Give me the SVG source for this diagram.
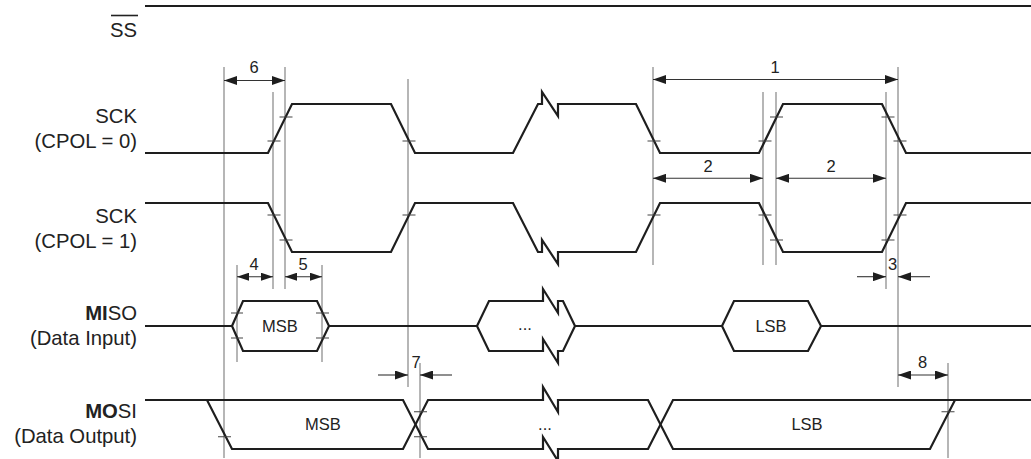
<svg xmlns="http://www.w3.org/2000/svg" width="1031" height="459" viewBox="0 0 1031 459">
<style>
.sig{fill:none;stroke:#1e1e1e;stroke-width:2.2;stroke-linejoin:miter}
.guide{stroke:#7a7a7a;stroke-width:1.1}
.tick{stroke:#444;stroke-width:1.1}
.dim{stroke:#333;stroke-width:1.1;fill:none}
.lbl{font-family:"Liberation Sans",Arial,sans-serif;font-size:20.3px;fill:#222;text-anchor:end}
.num{font-family:"Liberation Sans",Arial,sans-serif;font-size:16.5px;fill:#222;text-anchor:middle}
.dat{font-family:"Liberation Sans",Arial,sans-serif;font-size:16.5px;fill:#222;text-anchor:middle}
</style>
<defs>
<marker id="ah" viewBox="0 0 13 9" refX="13" refY="4.5" markerWidth="13" markerHeight="9" markerUnits="userSpaceOnUse" orient="auto-start-reverse">
<path d="M0,0 L13,4.5 L0,9 Z" fill="#1e1e1e"/>
</marker>
<marker id="ahs" viewBox="0 0 12 8" refX="12" refY="4" markerWidth="12" markerHeight="8" markerUnits="userSpaceOnUse" orient="auto-start-reverse">
<path d="M0,0 L12,4 L0,8 Z" fill="#1e1e1e"/>
</marker>
</defs>

<g id="labels">
<text class="lbl" x="137" y="36.7">SS</text>
<line x1="111" y1="15.5" x2="138" y2="15.5" stroke="#222" stroke-width="1.6"/>
<text class="lbl" x="137" y="123.3">SCK</text>
<text class="lbl" x="137" y="148.3">(CPOL = 0)</text>
<text class="lbl" x="137" y="223.3">SCK</text>
<text class="lbl" x="137" y="248.3">(CPOL = 1)</text>
<text class="lbl" x="137" y="320"><tspan font-weight="bold">MI</tspan>SO</text>
<text class="lbl" x="137" y="345">(Data Input)</text>
<text class="lbl" x="137" y="417.7"><tspan font-weight="bold">MO</tspan>SI</text>
<text class="lbl" x="137" y="443.3">(Data Output)</text>
</g>

<g id="guides">
<line class="guide" x1="224" y1="67" x2="224" y2="458"/>
<line class="guide" x1="273" y1="92" x2="273" y2="289"/>
<line class="guide" x1="285" y1="67" x2="285" y2="289"/>
<line class="guide" x1="237" y1="265" x2="237" y2="362"/>
<line class="guide" x1="322" y1="265" x2="322" y2="362"/>
<line class="guide" x1="408" y1="79" x2="408" y2="387"/>
<line class="guide" x1="420" y1="363" x2="420" y2="458"/>
<line class="guide" x1="653" y1="67" x2="653" y2="265"/>
<line class="guide" x1="763" y1="92" x2="763" y2="265"/>
<line class="guide" x1="776" y1="92" x2="776" y2="265"/>
<line class="guide" x1="886" y1="92" x2="886" y2="289"/>
<line class="guide" x1="898" y1="67" x2="898" y2="387"/>
<line class="guide" x1="948" y1="363" x2="948" y2="458"/>
</g>

<g id="ss">
<path class="sig" d="M145,6 H1031"/>
</g>

<g id="sck0">
<path class="sig" d="M145,153 H268 L292,104 H391 L415,153 H513 L538,104 H542 V92 L558,116 V104 H636 L660,153 H759 L783,104 H882 L906,153 H1031"/>
<path class="tick" d="M267.5,141 h13 M279.5,117 h13 M402.5,141 h13 M647.5,141 h13 M758.5,141 h13 M770,117 h13 M881.5,117 h13 M893.5,141 h13"/>
</g>

<g id="sck1">
<path class="sig" d="M145,203 H268 L292,252 H391 L415,203 H513 L538,252 H542 V240 L558,264 V252 H636 L660,203 H759 L783,252 H882 L906,203 H1031"/>
<path class="tick" d="M267.5,215 h13 M279.5,240 h13 M402.5,215 h13 M647.5,215 h13 M758.5,215 h13 M770,240 h13 M881.5,240 h13 M893.5,215 h13"/>
</g>

<g id="miso">
<path class="sig" d="M145,326 H232 M329,326 H477 M575,326 H722 M821,326 H1031"/>
<path class="sig" d="M232,326 L243,301 H317 L329,326 L317,351 H243 Z"/>
<path class="sig" d="M477,326 L489,301 H543 V289 L558,313 V301 H563 L575,326 L563,351 H558 V363 L543,339 V351 H489 Z"/>
<path class="sig" d="M722,326 L734,301 H808 L821,326 L808,351 H734 Z"/>
<path class="tick" d="M231,313 h12 M231,338 h12 M316,313 h13 M316,338 h13"/>
<text class="dat" x="280" y="331.7">MSB</text>
<text class="dat" x="525" y="330">...</text>
<text class="dat" x="771" y="331.7">LSB</text>
</g>

<g id="mosi">
<path class="sig" d="M145,400 H207 L232,449 H403 L428,400 H543 V387 L558,412 V400 H648 L673,449 H930 L955,400 H1031"/>
<path class="sig" d="M207,400 H403 L428,449 H543 V437 L558,461 V449 H648 L673,400 H1031"/>
<path class="tick" d="M218,436.7 h13 M414,411.7 h13 M414,436.7 h13 M941.5,411.7 h13"/>
<text class="dat" x="323" y="430">MSB</text>
<text class="dat" x="545" y="430">...</text>
<text class="dat" x="807" y="430">LSB</text>
</g>

<g id="connectors">
<line class="dim" x1="224" y1="80.5" x2="285" y2="80.5" marker-start="url(#ah)" marker-end="url(#ah)"/>
<line class="dim" x1="653" y1="79.5" x2="898" y2="79.5" marker-start="url(#ah)" marker-end="url(#ah)"/>
<line class="dim" x1="653" y1="178.3" x2="763" y2="178.3" marker-start="url(#ah)" marker-end="url(#ah)"/>
<line class="dim" x1="776" y1="178.3" x2="886" y2="178.3" marker-start="url(#ah)" marker-end="url(#ah)"/>
<line class="dim" x1="237" y1="276.7" x2="273" y2="276.7" marker-start="url(#ahs)" marker-end="url(#ahs)"/>
<line class="dim" x1="285" y1="276.7" x2="322" y2="276.7" marker-start="url(#ahs)" marker-end="url(#ahs)"/>
<line class="dim" x1="857" y1="276.7" x2="886" y2="276.7" marker-end="url(#ah)"/>
<line class="dim" x1="930" y1="276.7" x2="898" y2="276.7" marker-end="url(#ah)"/>
<line class="dim" x1="378" y1="375" x2="408" y2="375" marker-end="url(#ah)"/>
<line class="dim" x1="452" y1="375" x2="420" y2="375" marker-end="url(#ah)"/>
<line class="dim" x1="898" y1="375" x2="948" y2="375" marker-start="url(#ah)" marker-end="url(#ah)"/>
<text class="num" x="254" y="73.3">6</text>
<text class="num" x="775" y="73">1</text>
<text class="num" x="708" y="171.7">2</text>
<text class="num" x="831" y="171.7">2</text>
<text class="num" x="254" y="269.5">4</text>
<text class="num" x="303" y="269.5">5</text>
<text class="num" x="892.5" y="270">3</text>
<text class="num" x="416" y="368">7</text>
<text class="num" x="922.7" y="368">8</text>
</g>
</svg>
